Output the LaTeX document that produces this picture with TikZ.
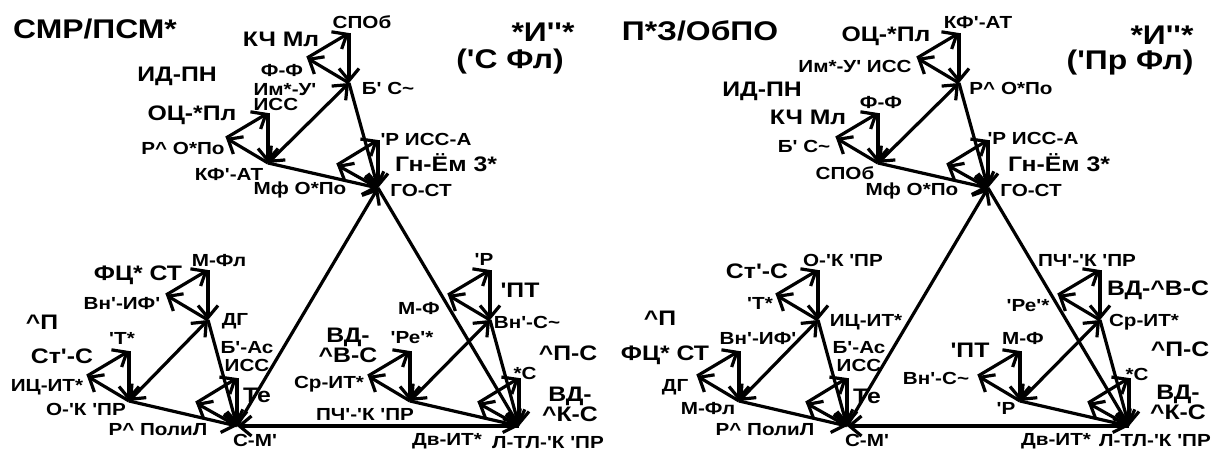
\documentclass[tikz,border=0pt]{standalone}
\usepackage{fontspec}
\setmainfont{Liberation Sans}[FakeStretch=1.18, Ligatures=TeXOff]
\usetikzlibrary{arrows.meta}
\newcommand{\crt}{\textasciicircum}
\newcommand{\tld}{\textasciitilde}

\begin{document}
\begin{tikzpicture}[x=1pt, y=-1pt, line width=3.2pt,
  >={Straight Barb[length=12pt,width=20pt]},
  lbl/.style={inner sep=0pt, font=\fontsize{17.5}{15}\selectfont\bfseries},
  cat/.style={inner sep=0pt, font=\fontsize{21}{20}\selectfont\bfseries},
  ttl/.style={inner sep=0pt, font=\fontsize{27}{28}\selectfont\bfseries}]
  \useasboundingbox (0,0) rectangle (1220,452);

  % left panel: points
  \coordinate (lV1) at (378,188); \coordinate (lV1q) at (378,140); \coordinate (lV1r) at (337,165);
  \coordinate (lA1) at (349,83);  \coordinate (lA1q) at (349,33);  \coordinate (lA1r) at (307,58);
  \coordinate (lB1) at (268,163); \coordinate (lB1q) at (268,113); \coordinate (lB1r) at (226,138);
  \coordinate (lV2) at (237,426); \coordinate (lV2q) at (237,378); \coordinate (lV2r) at (196,403);
  \coordinate (lA2) at (208,320); \coordinate (lA2q) at (208,270); \coordinate (lA2r) at (166,295);
  \coordinate (lB2) at (129,401); \coordinate (lB2q) at (129,351); \coordinate (lB2r) at (87,376);
  \coordinate (lV3) at (519,426); \coordinate (lV3q) at (519,378); \coordinate (lV3r) at (478,403);
  \coordinate (lA3) at (490,320); \coordinate (lA3q) at (490,270); \coordinate (lA3r) at (448,295);
  \coordinate (lB3) at (410,401); \coordinate (lB3q) at (410,351); \coordinate (lB3r) at (368,376);

  % right panel: points
  \coordinate (rV1) at (988,188); \coordinate (rV1q) at (988,140); \coordinate (rV1r) at (947,165);
  \coordinate (rA1) at (959,83);  \coordinate (rA1q) at (959,33);  \coordinate (rA1r) at (917,58);
  \coordinate (rB1) at (878,163); \coordinate (rB1q) at (878,113); \coordinate (rB1r) at (836,138);
  \coordinate (rV2) at (847,426); \coordinate (rV2q) at (847,378); \coordinate (rV2r) at (806,403);
  \coordinate (rA2) at (818,320); \coordinate (rA2q) at (818,270); \coordinate (rA2r) at (776,295);
  \coordinate (rB2) at (739,401); \coordinate (rB2q) at (739,351); \coordinate (rB2r) at (697,376);
  \coordinate (rV3) at (1129,426); \coordinate (rV3q) at (1129,378); \coordinate (rV3r) at (1088,403);
  \coordinate (rA3) at (1100,320); \coordinate (rA3q) at (1100,270); \coordinate (rA3r) at (1058,295);
  \coordinate (rB3) at (1020,401); \coordinate (rB3q) at (1020,351); \coordinate (rB3r) at (978,376);

  % big triangles
  \draw[->] (lV2) -- (lV1); \draw[->] (lV1) -- (lV3); \draw[->] (lV3) -- (lV2);
  \draw[->] (rV2) -- (rV1); \draw[->] (rV1) -- (rV3); \draw[->] (rV3) -- (rV2);

  % clusters
  \draw[<->] (lA1) -- (lB1); \draw[->] (lA1) -- (lV1); \draw[->] (lB1) -- (lV1);
  \draw[<->] (lA2) -- (lB2); \draw[->] (lA2) -- (lV2); \draw[->] (lB2) -- (lV2);
  \draw[<->] (lA3) -- (lB3); \draw[->] (lA3) -- (lV3); \draw[->] (lB3) -- (lV3);
  \draw[<->] (rA1) -- (rB1); \draw[->] (rA1) -- (rV1); \draw[->] (rB1) -- (rV1);
  \draw[<->] (rA2) -- (rB2); \draw[->] (rA2) -- (rV2); \draw[->] (rB2) -- (rV2);
  \draw[<->] (rA3) -- (rB3); \draw[->] (rA3) -- (rV3); \draw[->] (rB3) -- (rV3);

  % small cycles
  \draw (lV1r) edge[->] (lV1q) (lV1q) edge[->] (lV1) (lV1) edge[->] (lV1r);
  \draw (lA1r) edge[->] (lA1q) (lA1q) edge[->] (lA1) (lA1) edge[->] (lA1r);
  \draw (lB1r) edge[->] (lB1q) (lB1q) edge[->] (lB1) (lB1) edge[->] (lB1r);
  \draw (lV2r) edge[->] (lV2q) (lV2q) edge[->] (lV2) (lV2) edge[->] (lV2r);
  \draw (lA2r) edge[->] (lA2q) (lA2q) edge[->] (lA2) (lA2) edge[->] (lA2r);
  \draw (lB2r) edge[->] (lB2q) (lB2q) edge[->] (lB2) (lB2) edge[->] (lB2r);
  \draw (lV3r) edge[->] (lV3q) (lV3q) edge[->] (lV3) (lV3) edge[->] (lV3r);
  \draw (lA3r) edge[->] (lA3q) (lA3q) edge[->] (lA3) (lA3) edge[->] (lA3r);
  \draw (lB3r) edge[->] (lB3q) (lB3q) edge[->] (lB3) (lB3) edge[->] (lB3r);
  \draw (rV1r) edge[->] (rV1q) (rV1q) edge[->] (rV1) (rV1) edge[->] (rV1r);
  \draw (rA1r) edge[->] (rA1q) (rA1q) edge[->] (rA1) (rA1) edge[->] (rA1r);
  \draw (rB1r) edge[->] (rB1q) (rB1q) edge[->] (rB1) (rB1) edge[->] (rB1r);
  \draw (rV2r) edge[->] (rV2q) (rV2q) edge[->] (rV2) (rV2) edge[->] (rV2r);
  \draw (rA2r) edge[->] (rA2q) (rA2q) edge[->] (rA2) (rA2) edge[->] (rA2r);
  \draw (rB2r) edge[->] (rB2q) (rB2q) edge[->] (rB2) (rB2) edge[->] (rB2r);
  \draw (rV3r) edge[->] (rV3q) (rV3q) edge[->] (rV3) (rV3) edge[->] (rV3r);
  \draw (rA3r) edge[->] (rA3q) (rA3q) edge[->] (rA3) (rA3) edge[->] (rA3r);
  \draw (rB3r) edge[->] (rB3q) (rB3q) edge[->] (rB3) (rB3) edge[->] (rB3r);

  % left panel: texts
  \node[ttl] (lTitle) at (95,29) {СМР/ПСМ*};
  \node[ttl] (lHead) at (543,32) {*И''*};
  \node[ttl] (lSub) at (510,62) {('С Фл)};
  \node[cat] (lKch) at (281,39) {КЧ Мл};
  \node[cat] (lIdpn) at (177,76) {ИД-ПН};
  \node[cat] (lOcpl) at (192,115) {ОЦ-*Пл};
  \node[cat] (lGnem) at (446,163) {Гн-Ём 3*};
  \node[cat] (lFcst) at (138,275) {ФЦ* СТ};
  \node[cat] (lPi) at (42,322) {\crt П};
  \node[cat] (lStc) at (62,356) {Ст'-С};
  \node[cat] (lTe) at (257,395) {Те};
  \node[cat] (lPt) at (520,290) {'ПТ};
  \node[cat, align=center, font=\fontsize{21}{20}\selectfont\bfseries] (lVdv) at (348,345) {ВД-\\\crt В-С};
  \node[cat] (lPic) at (568,353) {\crt П-С};
  \node[cat, align=center, font=\fontsize{21}{20}\selectfont\bfseries] (lVdk) at (570,404) {ВД-\\\crt К-С};
  \node[lbl] (lSpob) at (362,22) {СПОб};
  \node[lbl] (lFf) at (282,70) {Ф-Ф};
  \node[lbl, align=left, anchor=north west] (lImu) at (252,82) {Им*-У'\\ИСС};
  \node[lbl] (lBsc) at (388,88) {Б' С\tld};
  \node[lbl] (lRopo) at (183,148) {Р\crt{} О*По};
  \node[lbl] (lKfat) at (229,174) {КФ'-АТ};
  \node[lbl] (lMfopo) at (300,190) {Мф О*По};
  \node[lbl] (lRissa) at (426,139) {'Р ИСС-А};
  \node[lbl] (lGost) at (421,190) {ГО-СТ};
  \node[lbl] (lMfl) at (219,261) {М-Фл};
  \node[lbl] (lVnif) at (122,303) {Вн'-ИФ'};
  \node[lbl] (lDg) at (235,321) {ДГ};
  \node[lbl] (lTs) at (122,338) {'Т*};
  \node[lbl] (lIcit) at (47,387) {ИЦ-ИТ*};
  \node[lbl] (lOkpr) at (86,409) {О-'К 'ПР};
  \node[lbl] (lRpol) at (158,430) {Р\crt{} ПолиЛ};
  \node[lbl, align=center, font=\fontsize{17.5}{18}\selectfont\bfseries] (lBas) at (247,357) {Б'-Ас\\ИСС};
  \node[lbl] (lSm) at (255,440) {С-М'};
  \node[lbl] (lR) at (484,259) {'Р};
  \node[lbl] (lMf) at (419,308) {М-Ф};
  \node[lbl] (lVnc) at (527,322) {Вн'-С\tld};
  \node[lbl] (lRe) at (412,338) {'Ре'*};
  \node[lbl] (lSrit) at (329,384) {Ср-ИТ*};
  \node[lbl] (lPch) at (365,414) {ПЧ'-'К 'ПР};
  \node[lbl] (lSc) at (525,373) {*С};
  \node[lbl] (lDvit) at (447,441) {Дв-ИТ*};
  \node[lbl] (lLtl) at (548,443) {Л-ТЛ-'К 'ПР};

  % right panel: texts
  \node[ttl] (rTitle) at (700,31) {П*З/ОбПО};
  \node[ttl] (rHead) at (1162,35) {*И''*};
  \node[ttl] (rSub) at (1130,63) {('Пр Фл)};
  \node[cat] (rOcpl) at (886,36) {ОЦ-*Пл};
  \node[cat] (rIdpn) at (762,91) {ИД-ПН};
  \node[cat] (rKch) at (808,117) {КЧ Мл};
  \node[cat] (rGnem) at (1059,163) {Гн-Ём 3*};
  \node[cat] (rPi) at (660,318) {\crt П};
  \node[cat] (rStc) at (757,271) {Ст'-С};
  \node[cat] (rFcst) at (665,355) {ФЦ* СТ};
  \node[cat] (rTe) at (867,396) {Те};
  \node[cat] (rVdv) at (1158,290) {ВД-\crt В-С};
  \node[cat] (rPic) at (1180,349) {\crt П-С};
  \node[cat] (rPt) at (970,350) {'ПТ};
  \node[cat, align=center, font=\fontsize{21}{20}\selectfont\bfseries] (rVdk) at (1178,402) {ВД-\\\crt К-С};
  \node[lbl] (rKfat) at (978,22) {КФ'-АТ};
  \node[lbl] (rImu) at (855,66) {Им*-У' ИСС};
  \node[lbl] (rRopo) at (1011,88) {Р\crt{} О*По};
  \node[lbl] (rFf) at (881,102) {Ф-Ф};
  \node[lbl] (rBsc) at (804,146) {Б' С\tld};
  \node[lbl] (rSpob) at (845,173) {СПОб};
  \node[lbl] (rMfopo) at (912,191) {Мф О*По};
  \node[lbl] (rRissa) at (1033,138) {'Р ИСС-А};
  \node[lbl] (rGost) at (1031,190) {ГО-СТ};
  \node[lbl] (rOkpr) at (843,260) {О-'К 'ПР};
  \node[lbl] (rTs) at (760,303) {'Т*};
  \node[lbl] (rIcit) at (866,322) {ИЦ-ИТ*};
  \node[lbl] (rVnif) at (758,338) {Вн'-ИФ'};
  \node[lbl] (rDg) at (675,387) {ДГ};
  \node[lbl] (rMfl) at (708,409) {М-Фл};
  \node[lbl] (rRpol) at (765,430) {Р\crt{} ПолиЛ};
  \node[lbl, align=center, font=\fontsize{17.5}{18}\selectfont\bfseries] (rBas) at (859,357) {Б'-Ас\\ИСС};
  \node[lbl] (rSm) at (867,440) {С-М'};
  \node[lbl] (rPch) at (1087,260) {ПЧ'-'К 'ПР};
  \node[lbl] (rRe) at (1028,306) {'Ре'*};
  \node[lbl] (rSrit) at (1144,322) {Ср-ИТ*};
  \node[lbl] (rMf) at (1023,338) {М-Ф};
  \node[lbl] (rVnc) at (936,378) {Вн'-С\tld};
  \node[lbl] (rR) at (1006,408) {'Р};
  \node[lbl] (rSc) at (1137,374) {*С};
  \node[lbl] (rDvit) at (1056,441) {Дв-ИТ*};
  \node[lbl] (rLtl) at (1155,441) {Л-ТЛ-'К 'ПР};
\end{tikzpicture}
\end{document}
